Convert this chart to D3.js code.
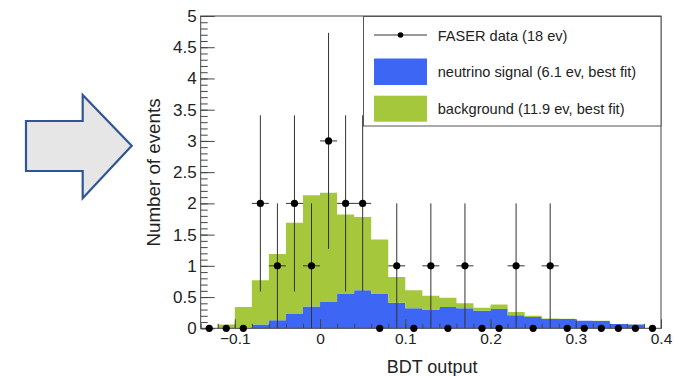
<!DOCTYPE html>
<html>
<head>
<meta charset="utf-8">
<script src="https://cdn.jsdelivr.net/npm/d3@7"></script>
<style>
  body { margin: 0; background: #fff; }
  svg { display: block; font-family: "Liberation Sans", Arial, Helvetica, sans-serif; }
</style>
</head>
<body>
<svg id="chart" width="674" height="376"></svg>
<script>
// bin centres of the BDT output histogram (bin width 0.02)
const binCenters = [-0.13, -0.11, -0.09, -0.07, -0.05, -0.03, -0.01, 0.01, 0.03, 0.05, 0.07, 0.09, 0.11,
  0.13, 0.15, 0.17, 0.19, 0.21, 0.23, 0.25, 0.27, 0.29, 0.31, 0.33, 0.35, 0.37, 0.39];
const binWidth = 0.02;

// stacked expectations (best fit)
const signal = [0, 0, 0.01, 0.06, 0.13, 0.23, 0.35, 0.42, 0.55, 0.61, 0.55, 0.41, 0.32,
  0.30, 0.34, 0.32, 0.28, 0.31, 0.21, 0.18, 0.15, 0.15, 0.12, 0.115, 0.07, 0.06, 0];
const background = [0, 0.06, 0.33, 0.71, 1.06, 1.46, 1.78, 1.75, 1.27, 1.17, 0.87, 0.41, 0.29,
  0.22, 0.15, 0.08, 0.05, 0.07, 0.05, 0.02, 0.005, 0.003, 0, 0.005, 0, 0.005, 0];

// observed events and their errors
const dataCounts = [0, 0, 0, 2, 1, 2, 1, 3, 2, 2, 0, 1, 0, 1, 0, 1, 0, 0, 1, 0, 1, 0, 0, 0, 0, 0, 0];
const dataErr = [0, 0, 0, 1.41, 1, 1.41, 1, 1.73, 1.41, 1.41, 0, 1, 0, 1, 0, 1, 0, 0, 1, 0, 1, 0, 0, 0, 0, 0, 0];

const xTicks = [-0.1, 0, 0.1, 0.2, 0.3, 0.4];
const yTicks = [0, 0.5, 1, 1.5, 2, 2.5, 3, 3.5, 4, 4.5, 5];
const legendLabels = ['FASER data (18 ev)', 'neutrino signal (6.1 ev, best fit)', 'background (11.9 ev, best fit)'];

const blue = '#3d66f4';
const green = '#a4c73c';
const ink = '#222';

const svg = d3.select('#chart');

// the big arrow on the left
svg.append('path')
  .attr('d', 'M26,121 L82.7,121 L82.7,95 L131.7,145.7 L82.7,198.3 L82.7,171 L26,171 Z')
  .attr('fill', '#e6e6e6')
  .attr('stroke', '#2f5597')
  .attr('stroke-width', 2.2)
  .attr('stroke-linejoin', 'miter');

const x = d3.scaleLinear().domain([-0.14, 0.4]).range([200.7, 661]);
const y = d3.scaleLinear().domain([0, 5]).range([328.3, 16]);

// stacked histogram
const rows = binCenters.map((c, i) => ({ lo: c - binWidth / 2, signal: signal[i], background: background[i] }));
const stacked = d3.stack().keys(['signal', 'background'])(rows);

const area = d3.area()
  .x(d => x(d.x))
  .y0(d => y(d.y0))
  .y1(d => y(d.y1))
  .curve(d3.curveStepAfter);

const colors = { signal: blue, background: green };
stacked.forEach(s => {
  const pts = s.map((d, i) => ({ x: rows[i].lo, y0: d[0], y1: d[1] }));
  const last = pts[pts.length - 1];
  pts.push({ x: last.x + binWidth, y0: last.y0, y1: last.y1 });
  svg.append('path')
    .attr('d', area(pts))
    .attr('fill', colors[s.key]);
});

// axes with ticks inside the frame (ROOT style)
const fmt = d3.format('~g');

const yMinor = svg.append('g').attr('transform', 'translate(' + x.range()[0] + ',0)')
  .call(d3.axisLeft(y).tickValues(y.ticks(50)).tickSize(-7).tickFormat(''));
const yMajor = svg.append('g').attr('transform', 'translate(' + x.range()[0] + ',0)')
  .call(d3.axisLeft(y).tickValues(yTicks).tickSize(-14).tickPadding(4).tickFormat(fmt));

const xMinor = svg.append('g').attr('transform', 'translate(0,' + y.range()[0] + ')')
  .call(d3.axisBottom(x).tickValues(x.ticks(27)).tickSize(-4.5).tickFormat(''));
const xMajor = svg.append('g').attr('transform', 'translate(0,' + y.range()[0] + ')')
  .call(d3.axisBottom(x).tickValues(xTicks).tickSize(-9).tickPadding(5).tickFormat(fmt));

[yMinor, yMajor, xMinor, xMajor].forEach(g => {
  g.select('.domain').remove();
  g.selectAll('line').attr('stroke', '#444');
  g.attr('font-family', null);
});
yMajor.selectAll('text').attr('font-size', 17).attr('fill', ink);
xMajor.selectAll('text').attr('font-size', 15.5).attr('fill', ink);

// frame
svg.append('rect')
  .attr('x', x.range()[0]).attr('y', y.range()[1])
  .attr('width', x.range()[1] - x.range()[0])
  .attr('height', y.range()[0] - y.range()[1])
  .attr('fill', 'none')
  .attr('stroke', '#444');

// axis titles
svg.append('text')
  .attr('transform', 'translate(160,172.5) rotate(-90)')
  .attr('text-anchor', 'middle')
  .attr('font-size', 18.8)
  .attr('fill', ink)
  .text('Number of events');

svg.append('text')
  .attr('x', 386.7).attr('y', 373)
  .attr('font-size', 18)
  .attr('fill', ink)
  .text('BDT output');

// data points with error bars
const pts = binCenters.map((c, i) => ({ c: c, n: dataCounts[i], e: dataErr[i] }));
const withErr = pts.filter(d => d.n > 0);

svg.append('g').selectAll('line.v')
  .data(withErr).enter().append('line')
  .attr('x1', d => x(d.c)).attr('x2', d => x(d.c))
  .attr('y1', d => y(d.n - d.e)).attr('y2', d => y(d.n + d.e))
  .attr('stroke', '#333').attr('stroke-width', 1);

svg.append('g').selectAll('line.h')
  .data(withErr).enter().append('line')
  .attr('x1', d => x(d.c - binWidth / 2)).attr('x2', d => x(d.c + binWidth / 2))
  .attr('y1', d => y(d.n)).attr('y2', d => y(d.n))
  .attr('stroke', '#333').attr('stroke-width', 1);

svg.append('g').selectAll('circle')
  .data(pts).enter().append('circle')
  .attr('cx', d => x(d.c)).attr('cy', d => y(d.n))
  .attr('r', 3.6)
  .attr('fill', '#000');

// legend
const legend = svg.append('g');
legend.append('rect')
  .attr('x', 363.5).attr('y', 16.5)
  .attr('width', 297.5).attr('height', 109.5)
  .attr('fill', '#fff')
  .attr('stroke', '#555');

legend.append('line')
  .attr('x1', 374).attr('x2', 427).attr('y1', 35).attr('y2', 35)
  .attr('stroke', '#333');
legend.append('circle')
  .attr('cx', 400.5).attr('cy', 35).attr('r', 2.8).attr('fill', '#000');

legend.append('rect')
  .attr('x', 374).attr('y', 58.5).attr('width', 53).attr('height', 26.5)
  .attr('fill', blue);
legend.append('rect')
  .attr('x', 374).attr('y', 95.7).attr('width', 53).attr('height', 26)
  .attr('fill', green);

const rowBase = [40.5, 76.7, 113.5];
legend.selectAll('text.lab')
  .data(legendLabels).enter().append('text')
  .attr('x', 437.7)
  .attr('y', (d, i) => rowBase[i])
  .attr('font-size', 14.6)
  .attr('fill', ink)
  .text(d => d);
</script>
</body>
</html>
